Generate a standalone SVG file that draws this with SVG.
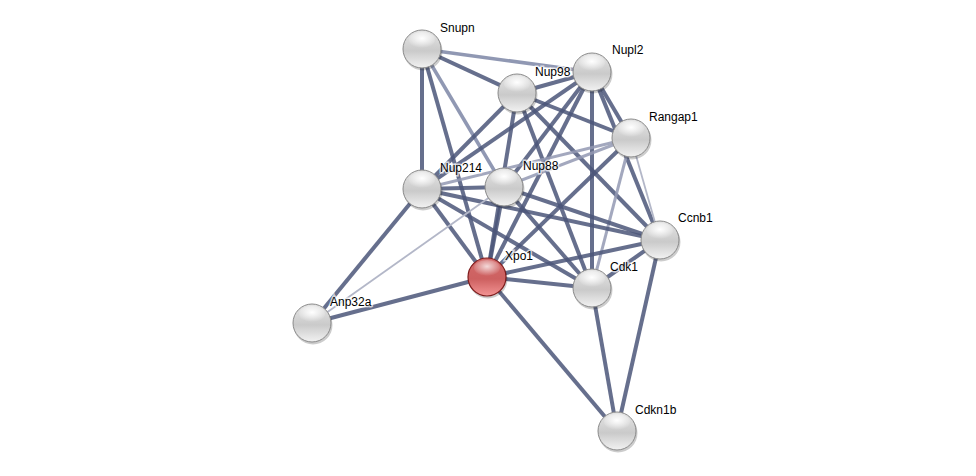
<svg xmlns="http://www.w3.org/2000/svg" width="976" height="476" viewBox="0 0 976 476">
<defs>
<linearGradient id="gBody" x1="0" y1="0" x2="0" y2="1">
<stop offset="0" stop-color="#e6e6e6"/>
<stop offset="0.55" stop-color="#cacaca"/>
<stop offset="1" stop-color="#f2f2f2"/>
</linearGradient>
<linearGradient id="rBody" x1="0" y1="0" x2="0" y2="1">
<stop offset="0" stop-color="#d26a6a"/>
<stop offset="0.55" stop-color="#cd6060"/>
<stop offset="1" stop-color="#f39494"/>
</linearGradient>
<radialGradient id="hl" cx="0.5" cy="0.4" r="0.6">
<stop offset="0" stop-color="#ffffff" stop-opacity="1"/>
<stop offset="1" stop-color="#ffffff" stop-opacity="0"/>
</radialGradient>
<g id="gnode">
<circle cx="1" cy="2" r="19.5" fill="#000" opacity="0.2"/>
<circle r="19" fill="url(#gBody)" stroke="#8a8a8a" stroke-width="1"/>
<ellipse cx="0" cy="-9" rx="13" ry="8" fill="url(#hl)"/>
</g>
<g id="rnode">
<circle cx="1" cy="2" r="19.5" fill="#000" opacity="0.2"/>
<circle r="19" fill="url(#rBody)" stroke="#7e1c1c" stroke-width="1.2"/>
<ellipse cx="0" cy="-9" rx="13" ry="8" fill="url(#hl)" opacity="0.75"/>
</g>
</defs>
<style>
.e{stroke:#4b5679;stroke-width:4;stroke-opacity:0.85;fill:none}
.m{stroke:#7d86a6;stroke-width:3.5;stroke-opacity:0.85;fill:none}
.l{stroke:#9399b3;stroke-width:3;stroke-opacity:0.85;fill:none}
.t{stroke:#b3b7c8;stroke-width:1.8;fill:none}
text{font-family:"Liberation Sans",Arial,sans-serif;font-size:12px;fill:#000;stroke:#fff;stroke-width:3;stroke-opacity:0.7;paint-order:stroke}
</style>
<rect width="976" height="476" fill="#fff"/>
<g id="edges">
<line class="m" x1="422" y1="49" x2="592" y2="72"/>
<line class="e" x1="422" y1="49" x2="517" y2="93"/>
<line class="e" x1="422" y1="49" x2="422" y2="189"/>
<line class="e" x1="422" y1="49" x2="487" y2="277"/>
<line class="m" x1="422" y1="49" x2="504" y2="187"/>
<line class="e" x1="517" y1="93" x2="592" y2="72"/>
<line class="e" x1="517" y1="93" x2="631" y2="138"/>
<line class="e" x1="517" y1="93" x2="422" y2="189"/>
<line class="e" x1="517" y1="93" x2="487" y2="277"/>
<line class="e" x1="517" y1="93" x2="592" y2="288"/>
<line class="e" x1="517" y1="93" x2="660" y2="240"/>
<line class="e" x1="592" y1="72" x2="631" y2="138"/>
<line class="e" x1="592" y1="72" x2="660" y2="240"/>
<line class="e" x1="592" y1="72" x2="592" y2="288"/>
<line class="e" x1="592" y1="72" x2="422" y2="189"/>
<line class="e" x1="592" y1="72" x2="504" y2="187"/>
<line class="e" x1="592" y1="72" x2="487" y2="277"/>
<line class="l" x1="631" y1="138" x2="422" y2="189"/>
<line class="l" x1="631" y1="138" x2="504" y2="187"/>
<line class="e" x1="631" y1="138" x2="487" y2="277"/>
<line class="l" x1="631" y1="138" x2="592" y2="288"/>
<line class="t" x1="631" y1="138" x2="660" y2="240"/>
<line class="e" x1="422" y1="189" x2="504" y2="187"/>
<line class="e" x1="422" y1="189" x2="660" y2="240"/>
<line class="e" x1="422" y1="189" x2="592" y2="288"/>
<line class="e" x1="422" y1="189" x2="487" y2="277"/>
<line class="e" x1="422" y1="189" x2="312" y2="323"/>
<line class="e" x1="504" y1="187" x2="660" y2="240"/>
<line class="e" x1="504" y1="187" x2="592" y2="288"/>
<line class="e" x1="504" y1="187" x2="487" y2="277"/>
<line class="t" x1="504" y1="187" x2="312" y2="323"/>
<line class="e" x1="487" y1="277" x2="660" y2="240"/>
<line class="e" x1="487" y1="277" x2="592" y2="288"/>
<line class="e" x1="487" y1="277" x2="312" y2="323"/>
<line class="e" x1="487" y1="277" x2="617" y2="431"/>
<line class="e" x1="592" y1="288" x2="660" y2="240"/>
<line class="e" x1="592" y1="288" x2="617" y2="431"/>
<line class="e" x1="660" y1="240" x2="617" y2="431"/>
</g>
<g id="n-Snupn"><use href="#gnode" x="422" y="49"/><text x="440" y="32">Snupn</text></g>
<g id="n-Nupl2"><use href="#gnode" x="592" y="72"/><text x="612" y="54">Nupl2</text></g>
<g id="n-Nup98"><use href="#gnode" x="517" y="93"/><text x="535" y="76">Nup98</text></g>
<g id="n-Rangap1"><use href="#gnode" x="631" y="138"/><text x="649" y="121">Rangap1</text></g>
<g id="n-Nup214"><use href="#gnode" x="422" y="189"/><text x="440" y="172">Nup214</text></g>
<g id="n-Nup88"><use href="#gnode" x="504" y="187"/><text x="523" y="170">Nup88</text></g>
<g id="n-Ccnb1"><use href="#gnode" x="660" y="240"/><text x="678" y="222">Ccnb1</text></g>
<g id="n-Xpo1"><use href="#rnode" x="487" y="277"/><text x="505" y="260">Xpo1</text></g>
<g id="n-Cdk1"><use href="#gnode" x="592" y="288"/><text x="610" y="271">Cdk1</text></g>
<g id="n-Anp32a"><use href="#gnode" x="312" y="323"/><text x="330" y="306">Anp32a</text></g>
<g id="n-Cdkn1b"><use href="#gnode" x="617" y="431"/><text x="635" y="414">Cdkn1b</text></g>
</svg>
